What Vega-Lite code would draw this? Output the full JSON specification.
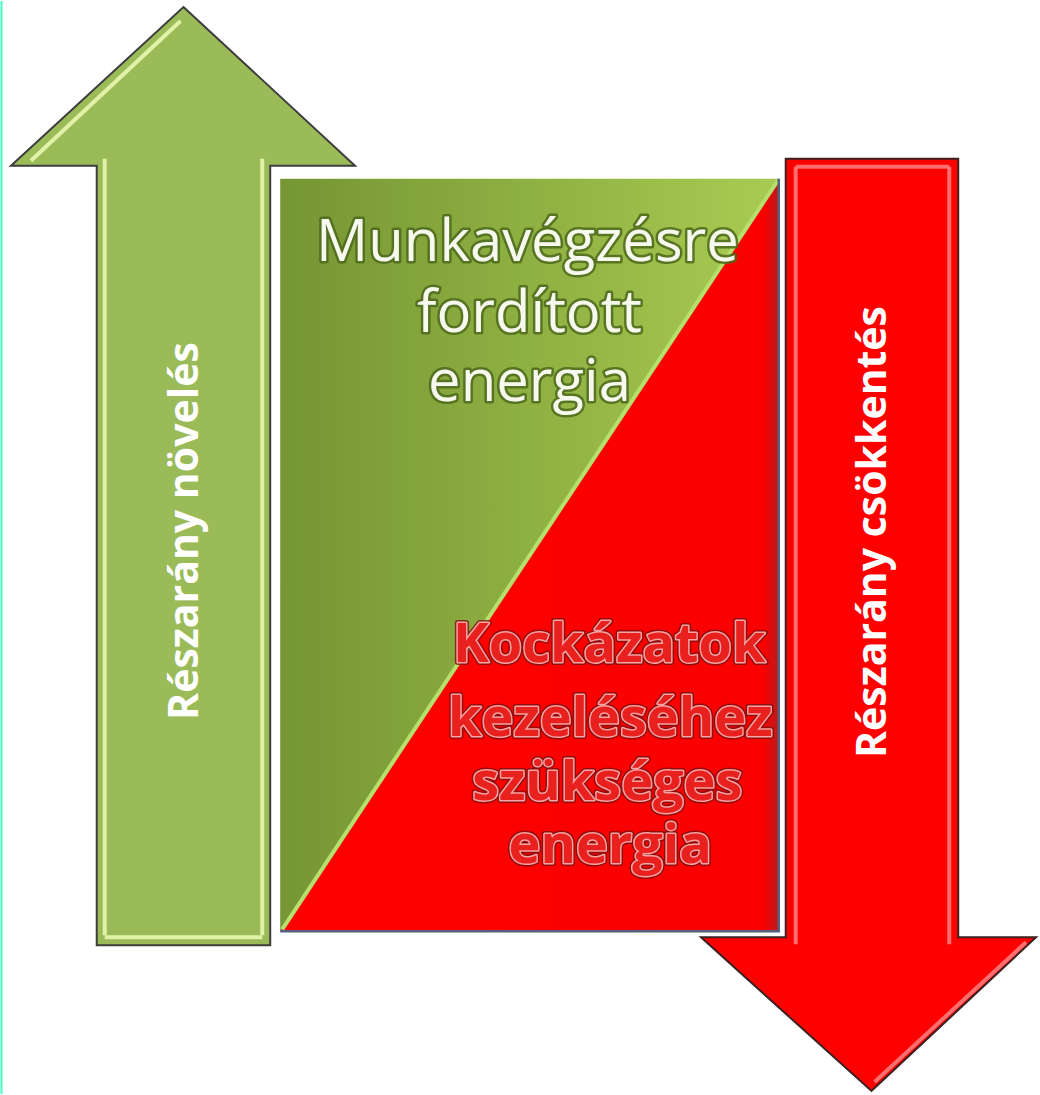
{
  "$schema": "https://vega.github.io/schema/vega-lite/v6.json",
  "width": 1040,
  "height": 1095,
  "autosize": {"type": "fit", "contains": "padding"},
  "padding": 0,
  "background": "#ffffff",
  "config": {"view": {"stroke": null}},
  "datasets": {
    "edge": [{"x": 0.5, "y": 0, "y2": 1095}],
    "greenArrow": [
      {"o": 1, "x": 183, "y": 6},
      {"o": 2, "x": 355, "y": 165},
      {"o": 3, "x": 270, "y": 165},
      {"o": 4, "x": 270, "y": 946},
      {"o": 5, "x": 96, "y": 946},
      {"o": 6, "x": 96, "y": 165},
      {"o": 7, "x": 10, "y": 165}
    ],
    "greenHi": [
      {"seg": "a", "o": 1, "x": 104, "y": 158},
      {"seg": "a", "o": 2, "x": 104, "y": 936},
      {"seg": "b", "o": 1, "x": 262, "y": 158},
      {"seg": "b", "o": 2, "x": 262, "y": 936},
      {"seg": "c", "o": 1, "x": 30, "y": 160},
      {"seg": "c", "o": 2, "x": 180, "y": 20},
      {"seg": "d", "o": 1, "x": 104, "y": 938},
      {"seg": "d", "o": 2, "x": 262, "y": 938}
    ],
    "greenTri": [
      {"o": 1, "x": 280, "y": 178},
      {"o": 2, "x": 780, "y": 178},
      {"o": 3, "x": 280, "y": 932}
    ],
    "redTri": [
      {"o": 1, "x": 780, "y": 178},
      {"o": 2, "x": 780, "y": 932},
      {"o": 3, "x": 280, "y": 932}
    ],
    "diag": [
      {"o": 1, "x": 282, "y": 930},
      {"o": 2, "x": 779, "y": 180}
    ],
    "border": [
      {"o": 1, "x": 780, "y": 178},
      {"o": 2, "x": 780, "y": 932},
      {"o": 3, "x": 280, "y": 932}
    ],
    "redArrow": [
      {"o": 1, "x": 787, "y": 158},
      {"o": 2, "x": 960, "y": 158},
      {"o": 3, "x": 960, "y": 938},
      {"o": 4, "x": 1038, "y": 938},
      {"o": 5, "x": 873, "y": 1092},
      {"o": 6, "x": 702, "y": 938},
      {"o": 7, "x": 787, "y": 938}
    ],
    "redHi": [
      {"seg": "a", "o": 1, "x": 797, "y": 166},
      {"seg": "a", "o": 2, "x": 797, "y": 945},
      {"seg": "b", "o": 1, "x": 951, "y": 166},
      {"seg": "b", "o": 2, "x": 951, "y": 945},
      {"seg": "c", "o": 1, "x": 876, "y": 1083},
      {"seg": "c", "o": 2, "x": 1028, "y": 943},
      {"seg": "d", "o": 1, "x": 797, "y": 166},
      {"seg": "d", "o": 2, "x": 951, "y": 166}
    ],
    "whiteText": [
      {"t": "Munkavégzésre", "x": 528, "y": 260},
      {"t": "fordított", "x": 530, "y": 332},
      {"t": "energia", "x": 530, "y": 401}
    ],
    "redText": [
      {"t": "Kockázatok", "x": 610, "y": 662},
      {"t": "kezeléséhez", "x": 611, "y": 736},
      {"t": "szükséges", "x": 608, "y": 800},
      {"t": "energia", "x": 611, "y": 864}
    ],
    "vertText": [
      {"t": "Részarány növelés", "x": 186, "y": 531},
      {"t": "Részarány csökkentés", "x": 876, "y": 532}
    ]
  },
  "encoding": {
    "x": {"field": "x", "type": "quantitative", "scale": {"domain": [0, 1040], "nice": false, "zero": false}, "axis": null},
    "y": {"field": "y", "type": "quantitative", "scale": {"domain": [0, 1095], "nice": false, "zero": false, "reverse": true}, "axis": null}
  },
  "layer": [
    {
      "data": {"name": "edge"},
      "mark": {"type": "rule", "stroke": "#44ffc4", "strokeWidth": 2},
      "encoding": {"y2": {"field": "y2"}}
    },
    {
      "data": {"name": "greenArrow"},
      "mark": {"type": "line", "filled": true, "interpolate": "linear-closed", "fill": "#9bbb59", "stroke": "#3d3d3d", "strokeWidth": 2, "strokeJoin": "miter"},
      "encoding": {"order": {"field": "o", "type": "quantitative"}}
    },
    {
      "data": {"name": "greenHi"},
      "mark": {"type": "line", "stroke": "#e9f8b0", "strokeWidth": 4, "opacity": 0.9},
      "encoding": {"detail": {"field": "seg"}, "order": {"field": "o", "type": "quantitative"}}
    },
    {
      "data": {"name": "greenTri"},
      "mark": {"type": "line", "filled": true, "interpolate": "linear-closed",
        "fill": {"gradient": "linear", "x1": 0, "y1": 0, "x2": 1, "y2": 0, "stops": [{"offset": 0, "color": "#769534"}, {"offset": 0.5, "color": "#8fb042"}, {"offset": 1, "color": "#aacb52"}]},
        "strokeWidth": 0},
      "encoding": {"order": {"field": "o", "type": "quantitative"}}
    },
    {
      "data": {"name": "redTri"},
      "mark": {"type": "line", "filled": true, "interpolate": "linear-closed",
        "fill": {"gradient": "linear", "x1": 0, "y1": 0, "x2": 1, "y2": 0, "stops": [{"offset": 0, "color": "#ff0000"}, {"offset": 0.97, "color": "#fa0000"}, {"offset": 1, "color": "#b81c1c"}]},
        "strokeWidth": 0},
      "encoding": {"order": {"field": "o", "type": "quantitative"}}
    },
    {
      "data": {"name": "diag"},
      "mark": {"type": "line", "stroke": "#b6e06c", "strokeWidth": 4},
      "encoding": {"order": {"field": "o", "type": "quantitative"}}
    },
    {
      "data": {"name": "border"},
      "mark": {"type": "line", "stroke": "#55607e", "strokeWidth": 2.5},
      "encoding": {"order": {"field": "o", "type": "quantitative"}}
    },
    {
      "data": {"name": "redArrow"},
      "mark": {"type": "line", "filled": true, "interpolate": "linear-closed", "fill": "#ff0000", "stroke": "#3d2020", "strokeWidth": 2, "strokeJoin": "miter"},
      "encoding": {"order": {"field": "o", "type": "quantitative"}}
    },
    {
      "data": {"name": "redHi"},
      "mark": {"type": "line", "stroke": "#ff7a7a", "strokeWidth": 4, "opacity": 0.9},
      "encoding": {"detail": {"field": "seg"}, "order": {"field": "o", "type": "quantitative"}}
    },
    {
      "data": {"name": "whiteText"},
      "mark": {"type": "text", "font": "Open Sans", "fontSize": 58, "align": "center", "baseline": "alphabetic", "fill": "#4d6a1c", "stroke": "#4d6a1c", "strokeWidth": 5, "strokeJoin": "round", "opacity": 0.85},
      "encoding": {"text": {"field": "t"}}
    },
    {
      "data": {"name": "whiteText"},
      "mark": {"type": "text", "font": "Open Sans", "fontSize": 58, "align": "center", "baseline": "alphabetic", "fill": "#f7f9ee"},
      "encoding": {"text": {"field": "t"}}
    },
    {
      "data": {"name": "redText"},
      "mark": {"type": "text", "font": "Open Sans", "fontWeight": "bold", "fontSize": 54, "align": "center", "baseline": "alphabetic", "fill": "#7a1010", "stroke": "#7a1010", "strokeWidth": 6, "strokeJoin": "round", "opacity": 0.8},
      "encoding": {"text": {"field": "t"}}
    },
    {
      "data": {"name": "redText"},
      "mark": {"type": "text", "font": "Open Sans", "fontWeight": "bold", "fontSize": 54, "align": "center", "baseline": "alphabetic", "fill": "#f6a3a3", "stroke": "#f6a3a3", "strokeWidth": 3, "strokeJoin": "round"},
      "encoding": {"text": {"field": "t"}}
    },
    {
      "data": {"name": "redText"},
      "mark": {"type": "text", "font": "Open Sans", "fontWeight": "bold", "fontSize": 54, "align": "center", "baseline": "alphabetic", "fill": "#e8201e"},
      "encoding": {"text": {"field": "t"}}
    },
    {
      "data": {"name": "vertText"},
      "mark": {"type": "text", "font": "Open Sans", "fontWeight": "bold", "fontSize": 41, "angle": 270, "align": "center", "baseline": "middle", "fill": "#ffffff"},
      "encoding": {"text": {"field": "t"}}
    }
  ]
}
